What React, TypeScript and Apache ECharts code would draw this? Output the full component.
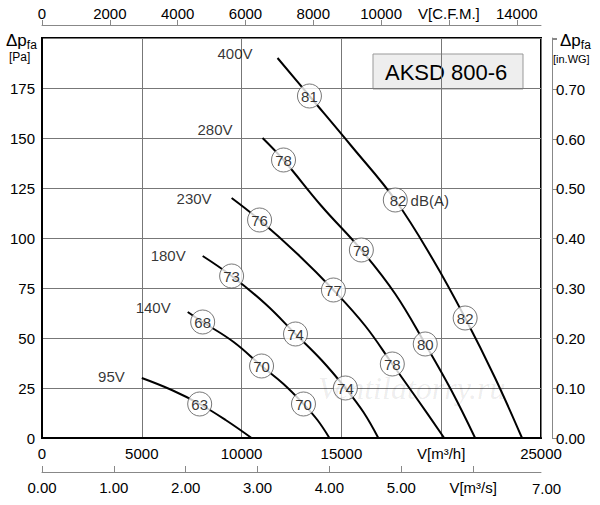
import { useEffect, useRef } from "react";
import * as echarts from "echarts";

// fan curves, [m³/h, Pa]
const curve400 = [[11800, 190], [13400, 171], [15500, 146], [17700, 119], [19600, 89], [21200, 60], [22700, 30], [24050, 0]];
const curve280 = [[11050, 150], [12100, 139], [14000, 116], [16000, 94], [17700, 72], [19200, 47], [20500, 24], [21700, 0]];
const curve230 = [[9500, 120], [10900, 109], [12800, 92], [14600, 74], [16200, 56], [17550, 37], [18900, 18], [20150, 0]];
const curve180 = [[8050, 91], [9500, 81], [11200, 67], [12700, 52], [14000, 39], [15200, 25], [16100, 13], [16850, 0]];
const curve140 = [[7300, 63], [8050, 58], [9600, 48], [11000, 36], [12100, 27], [13100, 17], [13800, 9], [14400, 0]];
const curve95 = [[5000, 30], [6500, 24], [7900, 17], [9200, 9], [10500, 0]];

const curves = [curve400, curve280, curve230, curve180, curve140, curve95];
const voltages = ["400V", "280V", "230V", "180V", "140V", "95V"];
const voltageOffsets = [[-20, -5], [-25, -9], [-15, 0], [-12, -1], [-12, -5], [-12, -2]];

// noise levels dB(A): [m³/h, Pa, value]
const noise = [
  [13400, 171, 81], [17700, 119, 82], [21200, 60, 82],
  [12100, 139, 78], [16000, 94, 79], [19200, 47, 80],
  [10900, 109, 76], [14600, 74, 77], [17550, 37, 78],
  [9500, 81, 73], [12700, 52, 74], [15200, 25, 74],
  [8050, 58, 68], [11000, 36, 70], [13100, 17, 70],
  [7900, 17, 63],
];

const font = "Liberation Sans, Arial, sans-serif";
const PA_PER_INWG = 249.09;
const CFM_TO_M3H = 1.69901;

export default function App() {
  const ref = useRef<HTMLDivElement>(null);

  useEffect(() => {
    document.body.style.margin = "0";
    const chart = echarts.init(ref.current!, null, { renderer: "svg" });
    const lbl = { color: "#000", fontSize: 15, fontFamily: font };
    const gray = { color: "#888", width: 1 };

    chart.setOption({
      animation: false,
      textStyle: { fontFamily: font },
      grid: { left: 42, top: 38, right: 59, bottom: 67, show: true, borderColor: "#000", borderWidth: 2, backgroundColor: "#fff" },
      xAxis: [
        {
          type: "value", min: 0, max: 25000, interval: 5000, position: "bottom",
          axisLine: { onZero: false, lineStyle: { color: "#000", width: 2 } }, axisTick: { show: false },
          axisLabel: { ...lbl, margin: 8, formatter: (v: number) => (v === 20000 ? "V[m³/h]" : String(v)) },
          splitLine: { lineStyle: { color: "#777", width: 1 } },
        },
        {
          type: "value", min: 0, max: 25000 / 3600, interval: 1, position: "bottom", offset: 34,
          axisLine: { show: true, onZero: false, lineStyle: gray }, axisTick: { inside: true, length: 6, lineStyle: gray },
          axisLabel: { ...lbl, margin: 8, showMaxLabel: false, formatter: (v: number) => (v === 6 ? "V[m³/s]" : v.toFixed(2)) },
          splitLine: { show: false },
        },
        {
          type: "value", min: 0, max: 25000 / CFM_TO_M3H, interval: 2000, position: "top", offset: 13,
          axisLine: { show: true, onZero: false, lineStyle: gray }, axisTick: { length: 5, lineStyle: gray },
          axisLabel: { ...lbl, margin: 4, showMaxLabel: false, formatter: (v: number) => (v === 12000 ? "V[C.F.M.]" : String(v)) },
          splitLine: { show: false },
        },
      ],
      yAxis: [
        {
          type: "value", min: 0, max: 200, interval: 25, position: "left",
          axisLine: { onZero: false, lineStyle: { color: "#000", width: 2 } }, axisTick: { show: false },
          axisLabel: { ...lbl, margin: 7, formatter: (v: number) => (v >= 200 ? "" : String(v)) },
          splitLine: { lineStyle: { color: "#777", width: 1 } },
        },
        {
          type: "value", min: 0, max: 200 / PA_PER_INWG, interval: 0.1, position: "right", offset: 11,
          axisLine: { show: true, onZero: false, lineStyle: gray }, axisTick: { length: 5, lineStyle: gray },
          axisLabel: { ...lbl, margin: 4, formatter: (v: number) => (v > 0.75 ? "" : v.toFixed(2)) },
          splitLine: { show: false },
        },
      ],
      graphic: [
        { type: "text", left: 6, top: 32, style: { text: "{a|Δp}{b|fa}", rich: { a: { fontSize: 17, fontFamily: font }, b: { fontSize: 12, fontFamily: font, padding: [8, 0, 0, 0] } } } },
        { type: "text", left: 9, top: 51, style: { text: "[Pa]", fontSize: 12, fontFamily: font } },
        { type: "text", left: 560, top: 32, style: { text: "{a|Δp}{b|fa}", rich: { a: { fontSize: 17, fontFamily: font }, b: { fontSize: 12, fontFamily: font, padding: [8, 0, 0, 0] } } } },
        { type: "text", left: 553, top: 53, style: { text: "[in.WG]", fontSize: 11, fontFamily: font } },
        { type: "text", left: 532, top: 481, style: { text: "7.00", fontSize: 15, fontFamily: font, fill: "#000" } },
        { type: "rect", shape: { x: 373, y: 54, width: 150, height: 35 }, style: { fill: "#eee", stroke: "#999", lineWidth: 1 } },
        { type: "text", left: 385, top: 61, style: { text: "AKSD 800-6", fontSize: 22, fontFamily: font, fill: "#000" } },
        { type: "text", left: 318, top: 372, silent: true, style: { text: "Ventilatorry.ru", fontSize: 32, fontStyle: "italic", fontFamily: "Liberation Serif, serif", fill: "rgba(0,0,0,0.08)" }, z: 100 },
      ],
      series: [
        ...curves.map((c) => ({
          type: "line", data: c, smooth: 0.4, symbol: "none", z: 3,
          lineStyle: { color: "#000", width: 2 },
        })),
        {
          type: "scatter", symbolSize: 0, z: 4,
          data: curves.map((c, i) => ({
            value: c[0],
            label: { show: true, position: "left", offset: voltageOffsets[i], formatter: voltages[i], ...lbl },
          })),
        },
        {
          type: "scatter", symbol: "circle", symbolSize: 24, z: 5,
          itemStyle: { color: "#fff", borderColor: "#555", borderWidth: 1 },
          data: noise.map((n, i) => ({
            value: n,
            label: { show: true, position: "inside", ...lbl, formatter: i === 1 ? "{a|82}{b| dB(A)}" : String(n[2]), rich: i === 1 ? { a: { ...lbl, padding: [0, 0, 0, 48] }, b: { ...lbl } } : undefined },
          })),
        },
      ],
    });
    return () => chart.dispose();
  }, []);

  return <div ref={ref} style={{ width: 600, height: 505 }} />;
}
